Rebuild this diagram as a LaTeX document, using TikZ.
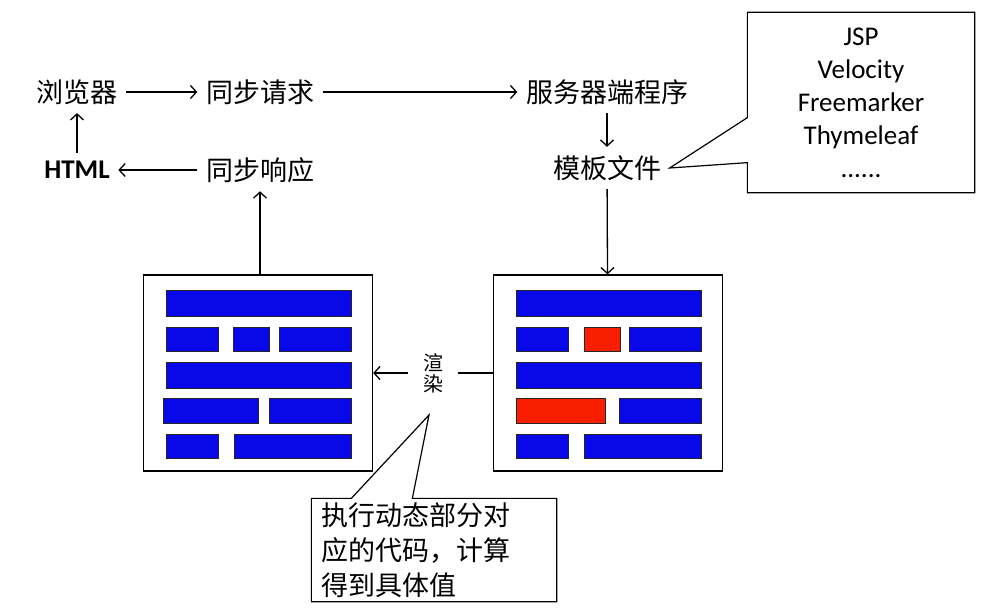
\documentclass[tikz,border=0pt]{standalone}
\usepackage{fontspec}
\setmainfont{Carlito}
\newfontfamily\cjk{Noto Sans CJK SC}
\usetikzlibrary{arrows.meta}
\definecolor{barblue}{RGB}{8,8,232}
\definecolor{barred}{RGB}{250,30,0}
\tikzset{
  word/.style = {inner sep=8pt, font=\cjk\fontsize{27}{32}\selectfont},
  page/.style = {draw=black, line width=1.3pt, minimum width=229pt,
    minimum height=196pt, inner sep=0pt},% page blanche
  bar/.style = {-, draw=black!85, line width=0.8pt, fill=barblue},
  hot/.style = {bar, fill=barred},% partie dynamique
  callout/.style = {-, draw=black, line width=1.2pt}
}
\begin{document}
\begin{tikzpicture}[x=1pt,y=-1pt,->,>={Straight Barb[length=6pt,width=13pt]},
  line width=1.3pt]
\useasboundingbox (0,0) rectangle (993,610);
\node [word] (browser) at (77,92) {浏览器};
\node [word] (req) at (260,92) {同步请求};
\node [word] (server) at (607,92) {服务器端程序};
\node [word] (tpl) at (607,168) {模板文件};
\node [word, font=\bfseries\fontsize{27}{30}\selectfont] (html) at (77,170) {HTML};
\node [word] (resp) at (260,170) {同步响应};

\node [page] (outpage) at (258,373) {};
\node [page] (tplpage) at (608,373) {};
\foreach \dx in {0,350} {
  \draw [bar] (166+\dx,290) rectangle (351+\dx,316);
  \draw [bar] (166+\dx,327) rectangle (218+\dx,351);
  \draw [bar] (279+\dx,327) rectangle (351+\dx,351);
  \draw [bar] (166+\dx,362) rectangle (351+\dx,388);
  \draw [bar] (269+\dx,398) rectangle (351+\dx,423);
  \draw [bar] (166+\dx,434) rectangle (218+\dx,458);
  \draw [bar] (234+\dx,434) rectangle (351+\dx,458);
}
\draw [bar] (233,327) rectangle (269,351);
\draw [bar] (163,398) rectangle (258,423);
\draw [hot] (584,327) rectangle (620,351);
\draw [hot] (516,398) rectangle (605,423);

\node [font=\cjk\fontsize{20}{21}\selectfont, align=center, inner sep=14pt]
  (render) at (433,373) {渲\\染};

\draw (browser) -- (req);
\draw (req) -- (server);
\draw (server) -- (tpl);
\draw (tpl) -- (tplpage);
\draw (html) -- (browser);
\draw (resp) -- (html);
\draw (outpage.north -| resp) -- (resp);
\draw (render) -- (outpage);
\draw [-] (tplpage) -- (render);

% bulle des moteurs
\node [font=\fontsize{27}{33}\selectfont, align=center, minimum width=226pt,
  minimum height=179pt] (engines) at (861,102.5)
  {JSP\\Velocity\\Freemarker\\Thymeleaf\\......};
\draw [callout] ([yshift=30pt]engines.south west) -- (tpl.east)
  -- ([yshift=75pt]engines.south west) -- (engines.north west)
  -- (engines.north east) -- (engines.south east) -- (engines.south west) -- cycle;

% bulle du calcul
\coordinate (tip) at (429,415);
\node [font=\cjk\fontsize{27}{35}\selectfont, align=left, text width=226pt,
  inner xsep=9pt, minimum height=102pt] (calc) at (434,550)
  {执行动态部分对\\应的代码，计算\\得到具体值};
\draw [callout] (calc.north west) -- ([xshift=40pt]calc.north west) -- (tip)
  -- ([xshift=101pt]calc.north west) -- (calc.north east)
  -- (calc.south east) -- (calc.south west) -- cycle;
\end{tikzpicture}
\end{document}
